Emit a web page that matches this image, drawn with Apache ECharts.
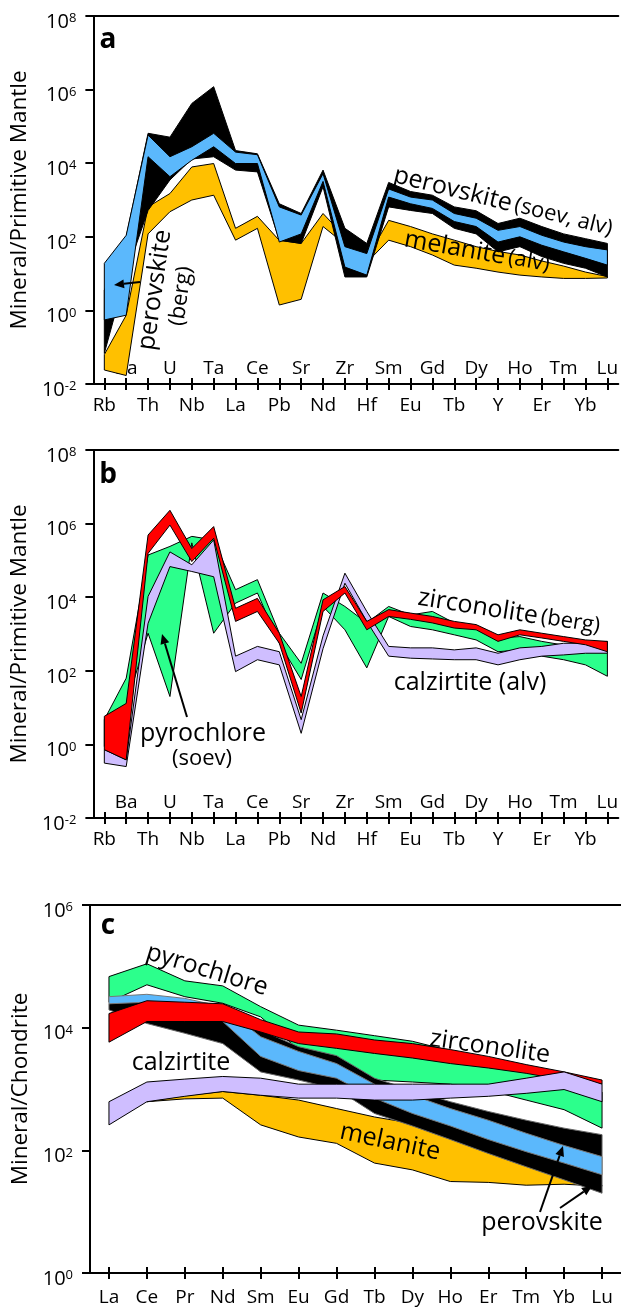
<!DOCTYPE html>
<html><head><meta charset="utf-8">
<script src="https://cdn.jsdelivr.net/npm/echarts@6/dist/echarts.min.js"></script>
<style>html,body{margin:0;padding:0;background:#fff}#c{width:621px;height:1309px}</style>
</head><body><div id="c"></div>
<script>
// ---------- categories ----------
const catsAB = ['Rb','Ba','Th','U','Nb','Ta','La','Ce','Pb','Sr','Nd','Zr','Hf','Sm','Eu','Gd','Tb','Dy','Y','Ho','Er','Tm','Yb','Lu'];
const catsC = ['La','Ce','Pr','Nd','Sm','Eu','Gd','Tb','Dy','Ho','Er','Tm','Yb','Lu'];

// ---------- panel a (mineral / primitive mantle) ----------
const melaniteA_hi = [0.063, 0.74, 650, 1500, 7900, 9800, 170, 360, 80, 66, 430, 100, 25, 280, 190, 120, 81, 54, 40, 32, 22, 16, 11, 8.3];
const melaniteA_lo = [0.024, 0.017, 120, 480, 1000, 1350, 81, 170, 1.4, 2.0, 190, 63, 20, 81, 54, 32, 17, 14, 11, 9.1, 8.1, 7.4, 7.4, 7.6];
const perovSoevA_hi = [3.5, 100, 65000, 51000, 420000, 1.2e6, 22000, 18000, 790, 430, 6500, 170, 66, 3000, 1700, 1350, 650, 510, 230, 320, 190, 120, 89, 66];
const perovSoevA_lo = [0.068, 10, 520, 3500, 13000, 15000, 6500, 5800, 81, 66, 2300, 8.1, 8.1, 650, 520, 430, 170, 120, 39, 54, 29, 19, 14, 8.1];
const perovBergA_hi = [19, 110, 58000, 15000, 28000, 65000, 20000, 17000, 650, 390, 5200, 54, 35, 2000, 1200, 1000, 430, 320, 150, 190, 110, 72, 54, 44];
const perovBergA_lo = [0.55, 0.74, 15000, 4300, 12000, 28000, 9800, 9800, 72, 120, 3200, 15, 9.1, 1200, 790, 590, 260, 190, 72, 100, 59, 39, 26, 17];

// ---------- panel b ----------
const pyroB_hi = [4.7, 63, 1.4e5, 2.4e5, 4.5e5, 3.6e5, 16000, 30000, 1050, 160, 13000, 5600, 2000, 5600, 3300, 4100, 2000, 1600, 780, 850, 630, 500, 420, 330];
const pyroB_lo = [0.89, 11, 1050, 20, 3.0e5, 1050, 6900, 13000, 560, 58, 5600, 1300, 120, 3000, 1600, 1300, 950, 690, 330, 370, 250, 200, 145, 71];
const zircB_hi = [5.8, 13, 4.9e5, 2.3e6, 2.1e5, 8.3e5, 5000, 9300, 1050, 20, 8500, 19500, 2200, 4600, 3700, 3000, 2200, 1800, 950, 1300, 1050, 850, 690, 630];
const zircB_lo = [0.72, 0.38, 1.55e5, 9.1e5, 93000, 4.0e5, 2200, 4100, 560, 7.1, 4100, 13000, 1300, 3000, 2500, 2000, 1450, 1300, 630, 950, 780, 630, 510, 330];
const calzB_hi = [0.72, 0.38, 10500, 1.7e5, 76000, 3.6e5, 250, 460, 330, 4.7, 890, 45000, 4100, 460, 420, 420, 370, 420, 300, 420, 460, 560, 560, 630];
const calzB_lo = [0.31, 0.25, 1950, 68000, 50000, 36000, 95, 200, 145, 2.0, 400, 24000, 2200, 250, 220, 210, 200, 200, 145, 200, 250, 270, 300, 300];

// ---------- panel c (mineral / chondrite) ----------
const melC_hi = [null, 620, 780, 910, 790, 660, 480, 350, 275, 165, 100, 58, 35, 27];
const melC_lo = [null, 620, 690, 710, 260, 165, 130, 62, 48, 31, 30, 27, 28, 26];
const pyroC_hi = [68000, 1.1e5, 58000, 48000, 22000, 11000, 9100, 7400, 6000, 4200, 3000, 2000, 1300, 890];
const pyroC_lo = [26000, 50000, 32000, 25000, 15000, 4400, 3000, 1400, 1300, 1200, 950, 660, 460, 230];
const perovSoevC_hi = [24500, 33000, 28000, 23000, 9100, 4900, 3500, 1500, 950, 620, 430, 310, 230, 180];
const perovSoevC_lo = [19500, 11700, 8100, 5500, 1900, 1400, 1000, 400, 250, 150, 89, 54, 33, 20];
const perovBergC_hi = [32000, 35000, 30000, 22000, 7100, 4100, 2600, 1200, 790, 480, 310, 190, 120, 79];
const perovBergC_lo = [24500, 26000, 19500, 12600, 3400, 2000, 1500, 710, 400, 250, 150, 95, 62, 40];
const zircC_hi = [17000, 27500, 26000, 24500, 13500, 8500, 7900, 6300, 5500, 4400, 3400, 2500, 1900, 1400];
const zircC_lo = [5800, 12600, 12600, 12600, 8500, 5500, 4600, 3800, 3200, 2600, 2200, 1800, 1400, 1200];
const calzC_hi = [620, 1300, 1450, 1600, 1500, 1200, 1200, 1200, 1200, 1200, 1200, 1500, 1900, 1200];
const calzC_lo = [260, 620, 760, 910, 790, 710, 710, 660, 660, 710, 760, 850, 980, 620];

// ---------- styling ----------
const F = "'Open Sans', sans-serif";
const COL = {blue:'#5BB8FC', yellow:'#FFC000', green:'#2CFF8C', red:'#FF0000', lav:'#CFBEFF', black:'#000000'};

function band(name, xi, yi, hi, lo, fill, stroke) {
  let first = hi.findIndex(v => v != null);
  return {
    type: 'custom', name: name, xAxisIndex: xi, yAxisIndex: yi,
    data: hi.map((h, i) => [i, h, lo[i]]),
    encode: {x: 0, y: [1, 2]},
    renderItem: function (params, api) {
      if (params.dataIndex !== first) return null;
      const top = [], bot = [];
      for (let i = 0; i < hi.length; i++) {
        if (hi[i] == null) continue;
        top.push(api.coord([i, hi[i]]));
        bot.push(api.coord([i, lo[i]]));
      }
      return {type: 'polygon', shape: {points: top.concat(bot.reverse())},
              style: {fill: fill, stroke: stroke || '#000', lineWidth: 1}};
    }
  };
}

const lineSt = {color: '#000', width: 2};
function xAxes(g, cats, alternate, outMargin) {
  return [
    {type: 'category', gridIndex: g, data: cats, position: 'bottom', boundaryGap: true,
     axisLine: {show: true, lineStyle: lineSt},
     axisTick: {show: true, alignWithLabel: true, interval: 0, length: 6, inside: false, lineStyle: lineSt},
     axisLabel: {interval: 0, margin: outMargin, fontSize: 19, fontFamily: F, color: '#000',
                 formatter: (v, i) => (!alternate || i % 2 === 0) ? v : ''},
     splitLine: {show: false}},
    {type: 'category', gridIndex: g, data: cats, position: 'bottom', boundaryGap: true,
     axisLine: {show: false},
     axisTick: {show: true, alignWithLabel: true, interval: 0, length: 6, inside: true, lineStyle: lineSt},
     axisLabel: {show: alternate, inside: true, interval: 0, margin: 6, fontSize: 19, fontFamily: F, color: '#000',
                 formatter: (v, i) => (i % 2 === 1) ? v : ''},
     splitLine: {show: false}},
    {type: 'category', gridIndex: g, data: cats, position: 'top', boundaryGap: true,
     axisLine: {show: true, lineStyle: lineSt}, axisTick: {show: false}, axisLabel: {show: false},
     splitLine: {show: false}}
  ];
}
function yAxis(g, min, max, name) {
  return {type: 'log', logBase: 10, gridIndex: g, min: min, max: max, interval: 2,
    name: name, nameLocation: 'middle', nameGap: 57,
    nameTextStyle: {fontSize: 22.5, fontFamily: F, color: '#000'},
    axisLine: {show: true, lineStyle: lineSt},
    axisTick: {show: true, length: 8, lineStyle: lineSt},
    minorTick: {show: false},
    splitLine: {show: false},
    axisLabel: {margin: 17, color: '#000', showMinLabel: true, showMaxLabel: true, padding: [12, 0, 0, 0],
      formatter: v => '{b|10}{s|' + Math.round(Math.log10(v)) + '}',
      rich: {b: {fontSize: 20, fontFamily: F, color: '#000'},
             s: {fontSize: 13, fontFamily: F, color: '#000', verticalAlign: 'top'}}}
  };
}

function txt(x, y, text, size, rotDeg, bold) {
  return {type: 'text', x: x, y: y, rotation: (rotDeg || 0) * Math.PI / 180, z: 100,
    style: {text: text, fontSize: size, fontFamily: F, fontWeight: bold ? 'bold' : 'normal',
            fill: '#000', align: 'center', verticalAlign: 'middle'}};
}
function richTxt(x, y, parts, rotDeg) {
  return {type: 'text', x: x, y: y, rotation: (rotDeg || 0) * Math.PI / 180, z: 100,
    style: {text: '{p|' + parts[0] + '} {s|' + parts[1] + '}', fill: '#000', align: 'center', verticalAlign: 'middle',
      rich: {p: {fontSize: 25, fontFamily: F, fill: '#000'}, s: {fontSize: 22, fontFamily: F, fill: '#000'}}}};
}
function arrow(x1, y1, x2, y2) {
  const dx = x2 - x1, dy = y2 - y1, L = Math.hypot(dx, dy), ux = dx / L, uy = dy / L;
  const bx = x2 - ux * 10, by = y2 - uy * 10, px = -uy * 4.5, py = ux * 4.5;
  return [
    {type: 'line', z: 100, shape: {x1: x1, y1: y1, x2: bx, y2: by}, style: {stroke: '#000', lineWidth: 2}},
    {type: 'polygon', z: 100, shape: {points: [[x2, y2], [bx + px, by + py], [bx - px, by - py]]}, style: {fill: '#000'}}
  ];
}

const option = {
  animation: false,
  backgroundColor: '#fff',
  grid: [
    {left: 90, top: 16, width: 533, height: 368},
    {left: 90, top: 450, width: 533, height: 368},
    {left: 90, top: 905, width: 535, height: 368}
  ],
  xAxis: [].concat(xAxes(0, catsAB, true, 12), xAxes(1, catsAB, true, 12), xAxes(2, catsC, false, 15)),
  yAxis: [
    yAxis(0, 0.01, 1e8, 'Mineral/Primitive Mantle'),
    yAxis(1, 0.01, 1e8, 'Mineral/Primitive Mantle'),
    yAxis(2, 1, 1e6, 'Mineral/Chondrite')
  ],
  series: [
    band('melanite (alv)', 0, 0, melaniteA_hi, melaniteA_lo, COL.yellow),
    band('perovskite (soev, alv)', 0, 0, perovSoevA_hi, perovSoevA_lo, COL.black),
    band('perovskite (berg)', 0, 0, perovBergA_hi, perovBergA_lo, COL.blue),

    band('pyrochlore (soev)', 3, 1, pyroB_hi, pyroB_lo, COL.green),
    band('calzirtite (alv)', 3, 1, calzB_hi, calzB_lo, COL.lav),
    band('zirconolite (berg)', 3, 1, zircB_hi, zircB_lo, COL.red),

    band('melanite', 6, 2, melC_hi, melC_lo, COL.yellow),
    band('pyrochlore', 6, 2, pyroC_hi, pyroC_lo, COL.green),
    band('perovskite (soev, alv)', 6, 2, perovSoevC_hi, perovSoevC_lo, COL.black, '#666'),
    band('perovskite (berg)', 6, 2, perovBergC_hi, perovBergC_lo, COL.blue, '#777'),
    band('zirconolite', 6, 2, zircC_hi, zircC_lo, COL.red),
    band('calzirtite', 6, 2, calzC_hi, calzC_lo, COL.lav)
  ],
  graphic: [
    txt(108, 40, 'a', 28, 0, true),
    txt(155, 290, 'perovskite', 25, 82),
    txt(181, 296, '(berg)', 22, 82),
    richTxt(503, 202, ['perovskite', '(soev, alv)'], -14),
    richTxt(477, 252, ['melanite', '(alv)'], -10),

    txt(108, 475, 'b', 28, 0, true),
    richTxt(509, 612, ['zirconolite', '(berg)'], -9),
    txt(470, 683, 'calzirtite (alv)', 25, 0),
    txt(203, 734, 'pyrochlore', 25, 0),
    txt(202, 759, '(soev)', 22, 0),

    txt(108, 926, 'c', 28, 0, true),
    txt(207, 970, 'pyrochlore', 25, -17),
    txt(181, 1063, 'calzirtite', 25, 0),
    txt(490, 1047, 'zirconolite', 25, -8),
    txt(390, 1142, 'melanite', 25, -12),
    txt(542, 1223, 'perovskite', 25, 0)
  ].concat(arrow(140, 282, 114, 285), arrow(187, 717, 162, 634),
           arrow(540, 1212, 563, 1146), arrow(560, 1208, 592, 1186))
};

const chart = echarts.init(document.getElementById('c'), null, {renderer: 'canvas'});
chart.setOption(option);
</script>
</body></html>
